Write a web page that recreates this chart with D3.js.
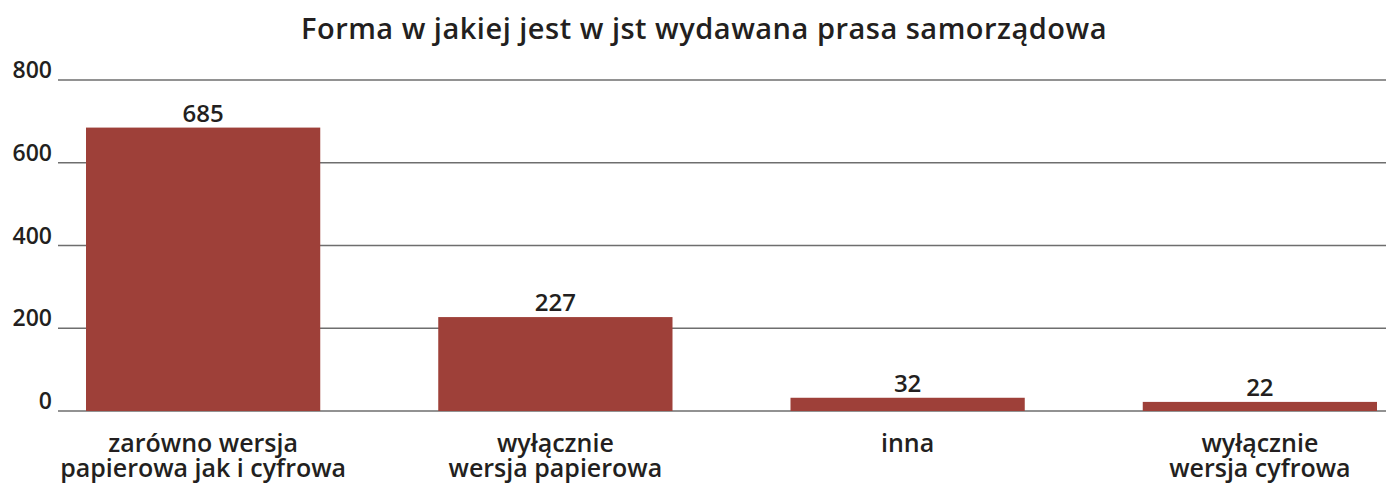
<!DOCTYPE html>
<html>
<head>
<meta charset="utf-8">
<script src="https://cdn.jsdelivr.net/npm/d3@7"></script>
<style>
body { margin: 0; background: #fff; }
svg { display: block; font-family: "Open Sans", sans-serif; font-weight: 600; }
</style>
</head>
<body>
<svg id="chart" width="1386" height="483"></svg>
<script>
var title = "Forma w jakiej jest w jst wydawana prasa samorządowa";
var categories = [
	["zarówno wersja", "papierowa jak i cyfrowa"],
	["wyłącznie", "wersja papierowa"],
	["inna"],
	["wyłącznie", "wersja cyfrowa"]
];
var values = [685, 227, 32, 22];
var ticks = [0, 200, 400, 600, 800];

var svg = d3.select("#chart");

var x = d3.scaleBand()
	.domain(d3.range(values.length))
	.range([27, 1436])
	.paddingInner(0.335)
	.paddingOuter(0.1675);

var y = d3.scaleLinear()
	.domain([0, 800])
	.range([411, 80]);

/* grid */
svg.selectAll("line.grid").data(ticks).enter().append("line")
	.attr("class", "grid")
	.attr("x1", 58)
	.attr("x2", 1386)
	.attr("y1", function(d){ return y(d); })
	.attr("y2", function(d){ return y(d); })
	.attr("stroke", "#6e6e6e")
	.attr("stroke-width", 1.6);

svg.selectAll("text.tick").data(ticks).enter().append("text")
	.attr("class", "tick")
	.attr("x", 52)
	.attr("y", function(d){ return y(d) - 2; })
	.attr("text-anchor", "end")
	.attr("fill", "#231f20")
	.style("font-size", "23px")
	.text(function(d){ return d; });

/* bars */
svg.selectAll("rect.bar").data(values).enter().append("rect")
	.attr("class", "bar")
	.attr("x", function(d, i){ return x(i); })
	.attr("width", x.bandwidth())
	.attr("y", function(d){ return y(d); })
	.attr("height", function(d){ return y(0) - y(d); })
	.attr("fill", "#9e4039");

svg.selectAll("text.val").data(values).enter().append("text")
	.attr("class", "val")
	.attr("x", function(d, i){ return x(i) + x.bandwidth()/2; })
	.attr("y", function(d){ return y(d) - 6; })
	.attr("text-anchor", "middle")
	.attr("fill", "#231f20")
	.style("font-size", "24px")
	.text(function(d){ return d; });

/* category labels */
categories.forEach(function(lines, i){
	var t = svg.append("text")
		.attr("text-anchor", "middle")
		.attr("fill", "#231f20")
		.style("font-size", "25px");
	lines.forEach(function(s, k){
		t.append("tspan")
			.attr("x", x(i) + x.bandwidth()/2)
			.attr("y", 452 + k*25)
			.text(s);
	});
});

svg.append("text")
	.attr("x", 704)
	.attr("y", 39)
	.attr("text-anchor", "middle")
	.attr("fill", "#231f20")
	.style("font-size", "29px")
	.style("letter-spacing", "0.5px")
	.text(title);
</script>
</body>
</html>
